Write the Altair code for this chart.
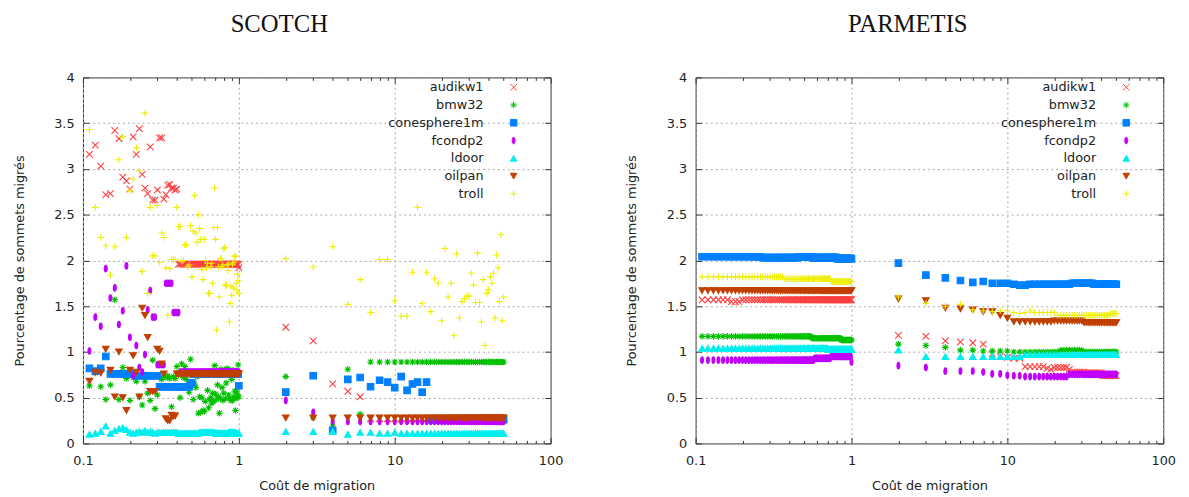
import altair as alt
import pandas as pd

SERIES = ["audikw1", "bmw32", "conesphere1m", "fcondp2", "ldoor", "oilpan", "troll"]
COLORS = ["#ff4040", "#00c000", "#0080ff", "#c000ff", "#00eeee", "#c04000", "#eeee00"]
SHAPES = [
    "M-1,-1L1,1M-1,1L1,-1",
    "M-1,0L1,0M0,-1L0,1M-0.7,-0.7L0.7,0.7M-0.7,0.7L0.7,-0.7",
    "square",
    "M0,-1C0.6,-1 0.6,1 0,1C-0.6,1 -0.6,-1 0,-1Z",
    "triangle-up",
    "triangle-down",
    "M-1,0L1,0M0,-1L0,1",
]

# migration cost grid: 0.11 .. 1.00 by 0.01, then 2 .. 50
X_LOW = [round(0.10 + 0.01 * k, 2) for k in range(1, 91)]
X_HIGH = list(range(2, 51))
X_ALL = X_LOW + X_HIGH

X_MAJOR = [0.1, 1, 10, 100]
X_MINOR = [0.2, 0.3, 0.4, 0.5, 0.6, 0.7, 0.8, 0.9, 2, 3, 4, 5, 6, 7, 8, 9, 20, 30, 40, 50, 60, 70, 80, 90]
Y_TICKS = [0, 0.5, 1, 1.5, 2, 2.5, 3, 3.5, 4]


def runs(*pairs):
    out = []
    for v, n in pairs:
        out += [v] * n
    return out


# ---------------- SCOTCH ----------------
scotch_audikw1 = [3.16, 3.26, 3.03, 2.72, 2.73, 3.42, 3.33, 2.91, 2.87, 2.78,
                  3.35, 3.16, 3.44, 2.94, 2.79, 2.73, 3.24, 2.66, 2.66, 2.77,
                  3.34, 3.34, 2.67, 2.72, 2.82, 2.83, 2.79, 2.79, 2.77, 2.78] \
    + runs((1.96, 58), (1.95, 1), (1.92, 1)) \
    + [1.27, 1.12, 0.65, 0.57, 0.51] + runs((0.27, 44))

scotch_bmw32 = [0.63, 0.77, 0.62, 0.48, 0.64, 1.57, 0.48, 0.83, 0.71, 0.47,
                0.72, 0.68, 0.51, 0.42, 0.68, 0.55, 0.47, 0.91, 0.38, 0.53,
                0.72, 0.70, 0.73, 0.72, 0.74, 0.71, 0.40, 0.73, 0.71, 0.84,
                0.75, 0.50, 0.87, 0.72, 0.84, 0.70, 0.79, 0.56, 0.92, 0.76,
                0.48, 0.65, 0.61, 0.73, 0.33, 0.51, 0.34, 0.50, 0.36, 0.35,
                0.46, 0.76, 0.58, 0.39, 0.48, 0.50, 0.44, 0.55, 0.46, 0.85,
                0.54, 0.48, 0.64, 0.51, 0.33, 0.49, 0.81, 0.61, 0.47, 0.55,
                0.80, 0.49, 0.66, 0.82, 0.80, 0.53, 0.49, 0.80, 0.47, 0.70,
                0.47, 0.80, 0.51, 0.57, 0.36, 0.49, 0.57, 0.53, 0.86, 0.51] \
    + [0.73, 0.28, 0.19, 0.81, 0.32] + runs((0.89, 44))

scotch_conesphere1m = [0.82, 0.79, 0.82, 0.95] \
    + runs((0.76, 7), (0.74, 9), (0.62, 18), (0.66, 2), (0.76, 49), (0.63, 1)) \
    + [0.56, 0.74, 0.14, 0.70, 0.72, 0.62, 0.69, 0.67, 0.61, 0.73, 0.58, 0.65, 0.67, 0.56, 0.67] \
    + runs((0.26, 34))

scotch_fcondp2 = [1.01, 1.38, 1.28, 1.91, 1.59, 1.70, 1.30, 1.45, 1.94, 1.16,
                  0.74, 1.07, 0.83, 0.78, 0.97, 1.46, 1.67, 1.38, 1.38] \
    + runs((0.86, 4), (1.75, 4), (1.43, 4), (0.78, 59)) \
    + [0.47, 0.34] + runs((0.24, 47))

scotch_ldoor = [0.10, 0.11, 0.13, 0.19, 0.11, 0.14, 0.16, 0.17, 0.15, 0.12,
                0.11, 0.12, 0.13, 0.12, 0.14, 0.12, 0.13, 0.12, 0.11, 0.12] \
    + runs((0.12, 10), (0.11, 15), (0.12, 15), (0.11, 15), (0.12, 10), (0.11, 5)) \
    + [0.13, 0.13, 0.13, 0.10, 0.12, 0.12, 0.11, 0.11, 0.12] + runs((0.11, 40))

scotch_oilpan = [0.68, 0.78, 0.77, 1.03, 0.80, 0.51, 1.00, 0.50, 0.36, 0.80,
                 0.96, 0.78, 0.51, 1.48, 1.40, 1.16, 0.57, 0.57, 0.57, 1.03,
                 1.01, 0.87, 0.76, 0.27, 0.25, 0.25, 0.31, 0.30, 0.30] \
    + runs((0.76, 61)) + runs((0.28, 49))

scotch_troll = [3.43, 2.58, 2.25, 2.16, 1.84, 2.15, 3.10, 3.35, 2.25, 2.76,
                2.89, 3.23, 2.98, 1.88, 3.61, 1.64, 2.58, 2.05, 2.05, 2.60,
                1.98, 2.30, 2.25, 1.92, 1.40, 1.91, 2.01, 2.01, 2.01, 2.58,
                2.37, 2.37, 1.99, 2.00, 2.17, 2.17, 1.93, 1.95, 2.38, 1.82,
                2.32, 2.71, 2.30, 2.20, 2.50, 2.35, 2.23, 1.90, 1.79, 2.23,
                2.00, 1.92, 1.97, 1.64, 1.64, 1.93, 1.97, 1.75, 2.36, 2.79,
                2.23, 1.24, 2.36, 1.93, 1.60, 2.02, 2.02, 1.93, 1.95, 2.13,
                2.14, 1.73, 1.73, 1.95, 1.89, 1.96, 1.33, 1.53, 1.72, 1.62,
                1.96, 1.70, 1.98, 2.04, 2.05, 1.75, 1.68, 1.85, 1.78, 1.64] \
    + [2.02, 1.93, 2.15, 1.52, 1.79, 1.43, 2.01, 2.01, 1.56,
       1.39, 1.39, 1.87, 2.58, 1.53, 1.87, 1.44, 1.80, 1.75, 1.34,
       2.13, 1.60, 1.75, 1.18, 2.07, 1.37, 1.55, 1.58, 1.61, 1.61,
       1.86, 1.73, 1.54, 2.08, 1.54, 1.33, 1.79, 1.07, 1.64, 1.68,
       1.82, 1.75, 1.86, 1.37, 2.06, 1.92, 1.55, 2.28, 1.34, 1.60]

# ---------------- ParMeTiS ----------------
parmetis_audikw1 = runs((1.57, 6), (1.55, 3), (1.57, 81)) \
    + [1.18, 1.17, 1.12, 1.11, 1.10, 1.085, 0.98, 0.95, 0.94, 0.93, 0.93] \
    + runs((0.84, 5), (0.82, 1), (0.81, 1), (0.83, 5), (0.81, 1), (0.78, 6), (0.77, 9), (0.74, 10))

parmetis_bmw32 = runs((1.17, 45), (1.15, 30), (1.13, 15)) \
    + [1.085, 1.07, 1.05, 1.02, 1.02, 1.01, 1.01, 1.01, 1.01] \
    + runs((1.00, 11), (1.02, 9), (1.00, 20))

parmetis_conesphere1m = runs((2.04, 16), (2.03, 19), (2.04, 10), (2.03, 25), (2.02, 20)) \
    + [1.97, 1.84, 1.81, 1.78, 1.76, 1.77, 1.75, 1.75, 1.75, 1.74, 1.73, 1.73] \
    + runs((1.74, 12), (1.75, 10), (1.74, 15))

parmetis_fcondp2 = runs((0.91, 47), (0.93, 16), (0.95, 26), (0.89, 1)) \
    + [0.85, 0.83, 0.79, 0.79, 0.79, 0.78, 0.76, 0.76, 0.745, 0.74, 0.74] \
    + runs((0.73, 12), (0.755, 26))

parmetis_ldoor = runs((1.04, 60), (1.03, 30)) + [1.02] + runs((0.95, 10), (0.97, 38))

parmetis_oilpan = runs((1.67, 90)) \
    + [1.58, 1.56, 1.48, 1.47, 1.46, 1.44, 1.44, 1.40, 1.37] \
    + runs((1.33, 9), (1.34, 11), (1.32, 20))

parmetis_troll = runs((1.82, 26), (1.80, 37), (1.77, 27)) \
    + [1.60, 1.53, 1.50, 1.52, 1.46, 1.45, 1.44, 1.45, 1.45, 1.43, 1.42, 1.43, 1.45] \
    + runs((1.43, 6), (1.40, 25), (1.42, 5))

SCOTCH = [scotch_audikw1, scotch_bmw32, scotch_conesphere1m, scotch_fcondp2,
          scotch_ldoor, scotch_oilpan, scotch_troll]
PARMETIS = [parmetis_audikw1, parmetis_bmw32, parmetis_conesphere1m, parmetis_fcondp2,
            parmetis_ldoor, parmetis_oilpan, parmetis_troll]


def frame(values):
    rows = []
    for name, ys in zip(SERIES, values):
        for xv, yv in zip(X_ALL, ys):
            rows.append({"serie": name, "x": xv, "y": yv})
    return pd.DataFrame(rows)


FONT = "DejaVu Sans"
XS = alt.Scale(type="log", domain=[0.1, 100])
YS = alt.Scale(domain=[0, 4], nice=False)


def panel(df, title, dx):
    legend = alt.Legend(title=None, orient="none", legendX=393, legendY=3.5,
                        labelAlign="right", labelOffset={"expr": "-37"}, symbolOffset=37,
                        labelFont=FONT, labelFontSize=13, labelColor="#222222",
                        symbolSize=44, symbolStrokeWidth=1, rowPadding=4, padding=0)
    base = alt.Chart(df)
    pts = base.mark_point(filled=True, size=44, strokeWidth=1.1, opacity=1).encode(
        x=alt.X("x:Q", scale=XS, title="Coût de migration",
                axis=alt.Axis(orient="bottom", values=X_MAJOR, format="~g", labelFlush=False,
                              grid=True, domain=False, tickSize=6, offset=-6,
                              labelPadding=11, titlePadding=13, labelOverlap=False)),
        y=alt.Y("y:Q", scale=YS, title="Pourcentage de sommets migrés",
                axis=alt.Axis(orient="left", values=Y_TICKS, format="~g", grid=True,
                              domain=False, tickSize=6, offset=-6, labelPadding=9,
                              titlePadding=28, labelOverlap=False)),
        fill=alt.Fill("serie:N", scale=alt.Scale(domain=SERIES, range=COLORS), legend=legend),
        stroke=alt.Stroke("serie:N", scale=alt.Scale(domain=SERIES, range=COLORS), legend=legend),
        shape=alt.Shape("serie:N", scale=alt.Scale(domain=SERIES, range=SHAPES), legend=legend),
    )
    top_major = base.mark_point(opacity=0).encode(
        x=alt.X("x:Q", scale=XS, title=None,
                axis=alt.Axis(orient="top", values=X_MAJOR, labels=False, grid=False,
                              domain=False, tickSize=6, offset=-6)),
        y=alt.Y("y:Q", scale=YS, title=None,
                axis=alt.Axis(orient="right", values=Y_TICKS, labels=False, grid=False,
                              domain=False, tickSize=6, offset=-6)),
    )
    bottom_minor = base.mark_point(opacity=0).encode(
        x=alt.X("x:Q", scale=XS, title=None,
                axis=alt.Axis(orient="bottom", values=X_MINOR, labels=False, grid=False,
                              domain=False, tickSize=3, offset=-3)),
        y=alt.Y("y:Q", scale=YS, axis=None),
    )
    top_minor = base.mark_point(opacity=0).encode(
        x=alt.X("x:Q", scale=XS, title=None,
                axis=alt.Axis(orient="top", values=X_MINOR, labels=False, grid=False,
                              domain=False, tickSize=3, offset=-3)),
        y=alt.Y("y:Q", scale=YS, axis=None),
    )
    return alt.layer(pts, top_major, bottom_minor, top_minor).resolve_axis(
        x="independent", y="independent"
    ).properties(
        width=474, height=371,
        title=alt.Title(title, font="Liberation Serif", fontSize=25, fontWeight="normal",
                        color="#111111", anchor="middle", dx=dx, offset=35),
    )


left = panel(frame(SCOTCH), "SCOTCH", -38)
right = panel(frame(PARMETIS), "PARMETIS", -22)

chart = alt.hconcat(left, right, spacing=62).resolve_scale(
    fill="independent", stroke="independent", shape="independent"
).properties(
    padding={"left": 4, "top": 0, "right": 5, "bottom": 5}
).configure_view(
    stroke="#333333", strokeWidth=1
).configure_axis(
    labelFont=FONT, labelFontSize=13, labelColor="#222222",
    titleFont=FONT, titleFontSize=13, titleColor="#222222", titleFontWeight="normal",
    tickColor="#333333", gridColor="#a8a8a8", gridDash=[2, 3], gridWidth=1
)

chart.save("out.html", embed_options={"renderer": "svg", "actions": False})
